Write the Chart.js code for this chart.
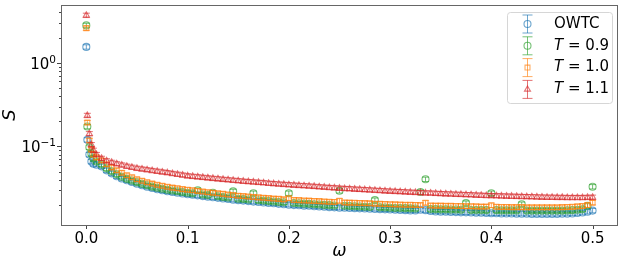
<!DOCTYPE html>
<html>
<head>
<meta charset="utf-8">
<script src="https://cdn.jsdelivr.net/npm/chart.js@4.4.0/dist/chart.umd.min.js"></script>
<style>
  html, body { margin: 0; padding: 0; background: #fff; }
</style>
</head>
<body>
<canvas id="myChart" width="623" height="266"></canvas>
<script>
// frequency grid
var omega = [0, 0.001, 0.003, 0.005, 0.007, 0.01,
  0.015, 0.02, 0.025, 0.03, 0.035, 0.04, 0.045, 0.05, 0.055, 0.06,
  0.065, 0.07, 0.075, 0.08, 0.085, 0.09, 0.095, 0.1, 0.105, 0.11,
  0.115, 0.12, 0.125, 0.13, 0.135, 0.14, 0.145, 0.15, 0.155, 0.16,
  0.165, 0.17, 0.175, 0.18, 0.185, 0.19, 0.195, 0.2, 0.205, 0.21,
  0.215, 0.22, 0.225, 0.23, 0.235, 0.24, 0.245, 0.25, 0.255, 0.26,
  0.265, 0.27, 0.275, 0.28, 0.285, 0.29, 0.295, 0.3, 0.305, 0.31,
  0.315, 0.32, 0.325, 0.33, 0.335, 0.34, 0.345, 0.35, 0.355, 0.36,
  0.365, 0.37, 0.375, 0.38, 0.385, 0.39, 0.395, 0.4, 0.405, 0.41,
  0.415, 0.42, 0.425, 0.43, 0.435, 0.44, 0.445, 0.45, 0.455, 0.46,
  0.465, 0.47, 0.475, 0.48, 0.485, 0.49, 0.495, 0.5];

var sOWTC = [1.55, 0.12, 0.08, 0.066, 0.062, 0.0605,
  0.0578, 0.0518, 0.0477, 0.0440, 0.0413, 0.0394, 0.0375, 0.0358, 0.0343, 0.0330,
  0.0318, 0.0308, 0.0299, 0.0291, 0.0285, 0.0280, 0.0274, 0.0268, 0.0264, 0.0260,
  0.0255, 0.0251, 0.0247, 0.0243, 0.0239, 0.0235, 0.0231, 0.0228, 0.0225, 0.0222,
  0.0219, 0.0217, 0.0214, 0.0211, 0.0209, 0.0206, 0.0204, 0.0201, 0.0199, 0.0198,
  0.0196, 0.0195, 0.0193, 0.0191, 0.0190, 0.0188, 0.0187, 0.0185, 0.0185, 0.0184,
  0.0183, 0.0182, 0.0181, 0.0180, 0.0179, 0.0178, 0.0177, 0.0176, 0.0175, 0.0174,
  0.0173, 0.0172, 0.0172, 0.0175, 0.0173, 0.0169, 0.0167, 0.0166, 0.0166, 0.0165,
  0.0164, 0.0163, 0.0163, 0.0162, 0.0161, 0.0161, 0.0160, 0.0159, 0.0159, 0.0158,
  0.0158, 0.0158, 0.0157, 0.0157, 0.0157, 0.0156, 0.0156, 0.0156, 0.0156, 0.0156,
  0.0156, 0.0157, 0.0157, 0.0158, 0.0160, 0.0162, 0.0166, 0.0171];

var sT09 = [2.8, 0.173, 0.098, 0.082, 0.072, 0.066,
  0.0611, 0.0547, 0.0504, 0.0464, 0.0434, 0.0410, 0.0391, 0.0373, 0.0358, 0.0343,
  0.0331, 0.0321, 0.0312, 0.0304, 0.0297, 0.0291, 0.0285, 0.0280, 0.0275, 0.0300,
  0.0266, 0.0262, 0.0280, 0.0254, 0.0249, 0.0245, 0.0290, 0.0237, 0.0235, 0.0232,
  0.0276, 0.0227, 0.0225, 0.0222, 0.0220, 0.0217, 0.0215, 0.0276, 0.0211, 0.0209,
  0.0207, 0.0206, 0.0204, 0.0202, 0.0200, 0.0199, 0.0197, 0.0295, 0.0195, 0.0194,
  0.0193, 0.0191, 0.0190, 0.0189, 0.0228, 0.0187, 0.0186, 0.0185, 0.0184, 0.0184,
  0.0183, 0.0182, 0.0181, 0.0285, 0.0405, 0.0179, 0.0178, 0.0177, 0.0177, 0.0176,
  0.0176, 0.0175, 0.0210, 0.0174, 0.0174, 0.0174, 0.0173, 0.0276, 0.0173, 0.0172,
  0.0172, 0.0172, 0.0172, 0.0204, 0.0171, 0.0171, 0.0171, 0.0171, 0.0171, 0.0171,
  0.0171, 0.0171, 0.0172, 0.0173, 0.0175, 0.0177, 0.0195, 0.0330];

var sT10 = [2.6, 0.193, 0.118, 0.092, 0.080, 0.074,
  0.0681, 0.0611, 0.0562, 0.0518, 0.0484, 0.0452, 0.0428, 0.0405, 0.0389, 0.0373,
  0.0360, 0.0348, 0.0339, 0.0330, 0.0322, 0.0316, 0.0309, 0.0304, 0.0299, 0.0294,
  0.0289, 0.0284, 0.0280, 0.0275, 0.0271, 0.0266, 0.0262, 0.0258, 0.0255, 0.0252,
  0.0249, 0.0246, 0.0244, 0.0241, 0.0238, 0.0236, 0.0233, 0.0240, 0.0229, 0.0228,
  0.0226, 0.0225, 0.0223, 0.0222, 0.0220, 0.0218, 0.0217, 0.0224, 0.0214, 0.0213,
  0.0212, 0.0211, 0.0210, 0.0209, 0.0207, 0.0206, 0.0205, 0.0204, 0.0203, 0.0202,
  0.0201, 0.0201, 0.0200, 0.0199, 0.0212, 0.0197, 0.0196, 0.0196, 0.0195, 0.0195,
  0.0194, 0.0194, 0.0193, 0.0193, 0.0192, 0.0191, 0.0191, 0.0198, 0.0190, 0.0189,
  0.0189, 0.0188, 0.0188, 0.0188, 0.0187, 0.0187, 0.0187, 0.0187, 0.0187, 0.0187,
  0.0187, 0.0188, 0.0189, 0.0190, 0.0192, 0.0194, 0.0199, 0.0213];

var sT11 = [3.7, 0.235, 0.142, 0.105, 0.090, 0.080,
  0.0720, 0.0673, 0.0645, 0.0620, 0.0600, 0.0580, 0.0564, 0.0548, 0.0537, 0.0526,
  0.0515, 0.0505, 0.0495, 0.0486, 0.0475, 0.0465, 0.0455, 0.0445, 0.0439, 0.0433,
  0.0427, 0.0421, 0.0415, 0.0410, 0.0404, 0.0399, 0.0394, 0.0389, 0.0384, 0.0380,
  0.0376, 0.0372, 0.0368, 0.0363, 0.0359, 0.0355, 0.0352, 0.0348, 0.0345, 0.0342,
  0.0339, 0.0336, 0.0333, 0.0329, 0.0326, 0.0323, 0.0320, 0.0317, 0.0314, 0.0312,
  0.0309, 0.0307, 0.0304, 0.0302, 0.0299, 0.0297, 0.0294, 0.0292, 0.0290, 0.0288,
  0.0286, 0.0284, 0.0282, 0.0280, 0.0278, 0.0277, 0.0275, 0.0273, 0.0271, 0.0270,
  0.0268, 0.0267, 0.0265, 0.0264, 0.0262, 0.0261, 0.0259, 0.0258, 0.0257, 0.0256,
  0.0255, 0.0254, 0.0253, 0.0252, 0.0251, 0.0250, 0.0249, 0.0248, 0.0247, 0.0247,
  0.0246, 0.0246, 0.0245, 0.0245, 0.0245, 0.0245, 0.0246, 0.0247];

var relErr = 0.06;   // error bar half-size, relative

var xTicks = [0, 0.1, 0.2, 0.3, 0.4, 0.5];
var yMajor = [0.1, 1];
var yMinor = [0.02, 0.03, 0.04, 0.05, 0.06, 0.07, 0.08, 0.09,
  0.2, 0.3, 0.4, 0.5, 0.6, 0.7, 0.8, 0.9, 2, 3, 4];
var yExp = ['\u22121', '0'];   // exponents of the major y ticks

var legendLabels = ['OWTC', 'T = 0.9', 'T = 1.0', 'T = 1.1'];
var series = [sOWTC, sT09, sT10, sT11];
var rgb = ['31, 119, 180', '44, 160, 44', '255, 127, 14', '214, 39, 40'];
var shapes = ['circle', 'circle', 'rect', 'triangle'];
var alpha = 0.65;

function pts(vals) {
  return omega.map(function (w, i) { return { x: w, y: vals[i] }; });
}

var datasets = series.map(function (vals, k) {
  return {
    label: legendLabels[k],
    data: pts(vals),
    borderColor: 'rgba(' + rgb[k] + ', ' + alpha + ')',
    backgroundColor: 'rgba(0,0,0,0)',
    pointStyle: shapes[k],
    pointRadius: 3.5,
    pointBorderWidth: 1.1,
    showLine: false,
    order: 4 - k
  };
});

// vertical error bars with caps, drawn under each dataset's markers
var errorBars = {
  id: 'errorBars',
  beforeDatasetDraw: function (chart, args) {
    var ds = chart.data.datasets[args.index];
    var ys = chart.scales.y;
    var ctx = chart.ctx;
    ctx.save();
    ctx.strokeStyle = ds.borderColor;
    ctx.lineWidth = 1;
    args.meta.data.forEach(function (pt, i) {
      var v = ds.data[i].y;
      var top = ys.getPixelForValue(v * (1 + relErr));
      var bot = ys.getPixelForValue(v * (1 - relErr));
      var x = pt.x;
      ctx.beginPath();
      ctx.moveTo(x, top); ctx.lineTo(x, bot);
      ctx.moveTo(x - 3.5, top); ctx.lineTo(x + 3.5, top);
      ctx.moveTo(x - 3.5, bot); ctx.lineTo(x + 3.5, bot);
      ctx.stroke();
    });
    ctx.restore();
  }
};

// frame, tick marks, y tick labels with exponents, and legend box
var frame = {
  id: 'frame',
  afterDraw: function (chart) {
    var ctx = chart.ctx, a = chart.chartArea;
    var xs = chart.scales.x, ys = chart.scales.y;
    ctx.save();
    ctx.strokeStyle = '#444';
    ctx.lineWidth = 1;
    ctx.beginPath();
    xTicks.forEach(function (v) {
      var px = Math.round(xs.getPixelForValue(v)) + 0.5;
      ctx.moveTo(px, a.bottom); ctx.lineTo(px, a.bottom + 4);
    });
    yMajor.concat(yMinor).forEach(function (v) {
      var py = Math.round(ys.getPixelForValue(v)) + 0.5;
      var len = yMajor.indexOf(v) >= 0 ? 4 : 2;
      ctx.moveTo(a.left - len, py); ctx.lineTo(a.left, py);
    });
    ctx.stroke();
    ctx.strokeStyle = '#666';
    ctx.strokeRect(Math.round(a.left) + 0.5, Math.round(a.top) + 0.5,
      Math.round(a.right - a.left) - 1, Math.round(a.bottom - a.top));

    // y tick labels: 10 with a raised exponent
    ctx.fillStyle = '#000';
    ctx.textAlign = 'right';
    ctx.textBaseline = 'alphabetic';
    yMajor.forEach(function (v, k) {
      var py = ys.getPixelForValue(v);
      var right = a.left - 5;
      ctx.font = '10.5px "DejaVu Sans"';
      var ew = ctx.measureText(yExp[k]).width;
      ctx.fillText(yExp[k], right, py);
      ctx.font = '15px "DejaVu Sans"';
      ctx.fillText('10', right - ew, py + 6);
    });

    // legend
    var bx = 507, by = 12, bw = 105, bh = 91;
    ctx.beginPath();
    ctx.roundRect(bx + 0.5, by + 0.5, bw, bh, 3);
    ctx.fillStyle = 'rgba(255,255,255,0.8)';
    ctx.fill();
    ctx.strokeStyle = '#d6d6d6';
    ctx.stroke();
    legendLabels.forEach(function (lab, k) {
      var cy = 24 + k * 21.8, cx = 527.5;
      ctx.strokeStyle = 'rgba(' + rgb[k] + ', ' + alpha + ')';
      ctx.lineWidth = 1;
      ctx.beginPath();
      ctx.moveTo(cx, cy - 9); ctx.lineTo(cx, cy + 9);
      ctx.moveTo(cx - 5, cy - 9); ctx.lineTo(cx + 5, cy - 9);
      ctx.moveTo(cx - 5, cy + 9); ctx.lineTo(cx + 5, cy + 9);
      ctx.stroke();
      ctx.fillStyle = 'rgba(0,0,0,0)';
      ctx.lineWidth = 1.1;
      Chart.helpers.drawPoint(ctx, { pointStyle: shapes[k], radius: 3.5, borderWidth: 1.1, rotation: 0 }, cx, cy);
      ctx.fillStyle = '#000';
      ctx.textBaseline = 'middle';
      ctx.textAlign = 'left';
      var tx = 554;
      if (lab.indexOf('T') === 0) {
        ctx.font = 'italic 15px "DejaVu Sans"';
        ctx.fillText('T', tx, cy);
        tx += ctx.measureText('T').width;
        ctx.font = '15px "DejaVu Sans"';
        ctx.fillText(lab.slice(1), tx, cy);
      } else {
        ctx.font = '15px "DejaVu Sans"';
        ctx.fillText(lab, tx, cy);
      }
    });
    ctx.restore();
  }
};

var ctx = document.getElementById('myChart').getContext('2d');
var myChart = new Chart(ctx, {
  type: 'scatter',
  data: { datasets: datasets },
  options: {
    responsive: false,
    devicePixelRatio: 1,
    animation: false,
    layout: { padding: { left: 0, right: 5, top: 4, bottom: 0 } },
    plugins: { legend: { display: false }, tooltip: { enabled: false } },
    scales: {
      x: {
        type: 'linear',
        min: -0.025,
        max: 0.525,
        afterBuildTicks: function (scale) {
          scale.ticks = xTicks.map(function (v) { return { value: v }; });
        },
        afterFit: function (scale) { scale.height = 41; },
        grid: { display: false, drawTicks: false },
        border: { display: false },
        ticks: {
          padding: 5,
          color: '#000',
          font: { family: 'DejaVu Sans', size: 15 },
          maxRotation: 0,
          autoSkip: false,
          callback: function (v) { return Number(v).toFixed(1); }
        },
        title: {
          display: true,
          text: 'ω',
          color: '#000',
          font: { family: 'DejaVu Sans', size: 17, style: 'italic' },
          padding: { top: 0, bottom: 4 }
        }
      },
      y: {
        type: 'logarithmic',
        min: 0.0115,
        max: 4.9,
        afterBuildTicks: function (scale) {
          scale.ticks = yMajor.map(function (v) { return { value: v, major: true }; });
        },
        afterFit: function (scale) { scale.width = 61; },
        grid: { display: false, drawTicks: false },
        border: { display: false },
        ticks: { display: false },
        title: {
          display: true,
          text: 'S',
          color: '#000',
          font: { family: 'DejaVu Sans', size: 18, style: 'italic' },
          padding: { top: 0, bottom: 0 }
        }
      }
    }
  },
  plugins: [errorBars, frame]
});
</script>
</body>
</html>
